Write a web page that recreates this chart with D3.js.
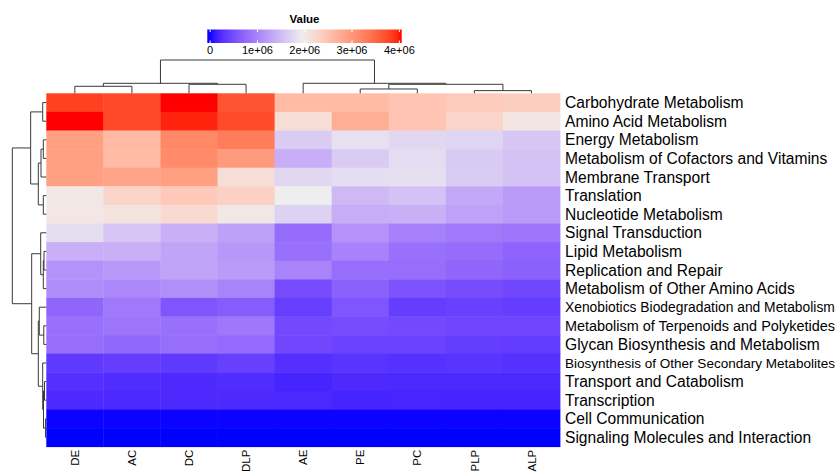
<!DOCTYPE html>
<html><head><meta charset="utf-8">
<script src="https://cdn.jsdelivr.net/npm/d3@7/dist/d3.min.js"></script>
<style>
body{margin:0;background:#fff}
svg{display:block}
text{font-family:"Liberation Sans", Arial, Helvetica, sans-serif;fill:#000}
</style>
</head><body>
<svg id="chart" width="840" height="473"></svg>
<script>
// ---------- data ----------
const columns = ["DE","AC","DC","DLP","AE","PE","PC","PLP","ALP"];
const pathways = [
  "Carbohydrate Metabolism","Amino Acid Metabolism","Energy Metabolism",
  "Metabolism of Cofactors and Vitamins","Membrane Transport","Translation",
  "Nucleotide Metabolism","Signal Transduction","Lipid Metabolism",
  "Replication and Repair","Metabolism of Other Amino Acids",
  "Xenobiotics Biodegradation and Metabolism","Metabolism of Terpenoids and Polyketides",
  "Glycan Biosynthesis and Metabolism","Biosynthesis of Other Secondary Metabolites",
  "Transport and Catabolism","Transcription","Cell Communication",
  "Signaling Molecules and Interaction"
];
// values per pathway, in column order DE, AC, DC, DLP, AE, PE, PC, PLP, ALP
const values = [
  [3.82e6,3.76e6,4.05e6,3.67e6,2.58e6,2.58e6,2.47e6,2.39e6,2.35e6],
  [4.05e6,3.76e6,3.97e6,3.74e6,2.16e6,2.73e6,2.47e6,2.27e6,2.06e6],
  [2.90e6,2.60e6,3.17e6,3.29e6,1.64e6,1.83e6,1.75e6,1.72e6,1.60e6],
  [2.90e6,2.58e6,3.13e6,2.96e6,1.38e6,1.64e6,1.79e6,1.63e6,1.56e6],
  [2.90e6,2.85e6,2.90e6,2.16e6,1.75e6,1.81e6,1.82e6,1.64e6,1.56e6],
  [2.03e6,2.27e6,2.41e6,2.31e6,1.95e6,1.48e6,1.56e6,1.33e6,1.21e6],
  [2.04e6,2.10e6,2.20e6,2.02e6,1.70e6,1.37e6,1.40e6,1.27e6,1.21e6],
  [1.81e6,1.58e6,1.40e6,1.25e6,0.78e6,1.13e6,0.96e6,0.90e6,0.86e6],
  [1.40e6,1.39e6,1.29e6,1.17e6,0.82e6,0.98e6,0.82e6,0.78e6,0.70e6],
  [1.13e6,1.19e6,1.29e6,1.21e6,0.99e6,0.80e6,0.80e6,0.72e6,0.68e6],
  [1.09e6,1.03e6,1.10e6,0.99e6,0.49e6,0.68e6,0.55e6,0.49e6,0.45e6],
  [0.72e6,0.90e6,0.57e6,0.64e6,0.37e6,0.57e6,0.36e6,0.39e6,0.36e6],
  [0.82e6,0.86e6,0.82e6,0.88e6,0.47e6,0.49e6,0.47e6,0.43e6,0.43e6],
  [0.80e6,0.74e6,0.80e6,0.76e6,0.45e6,0.41e6,0.41e6,0.36e6,0.35e6],
  [0.33e6,0.36e6,0.33e6,0.38e6,0.25e6,0.28e6,0.26e6,0.28e6,0.26e6],
  [0.25e6,0.23e6,0.21e6,0.23e6,0.17e6,0.21e6,0.20e6,0.20e6,0.20e6],
  [0.21e6,0.20e6,0.21e6,0.21e6,0.20e6,0.17e6,0.18e6,0.17e6,0.17e6],
  [0.01e6,0.01e6,0.01e6,0.01e6,0.01e6,0.01e6,0.01e6,0.01e6,0.01e6],
  [0.00e6,0.00e6,0.00e6,0.00e6,0.00e6,0.00e6,0.00e6,0.00e6,0.00e6]
];
const colorStops = [0, 1.95e6, 4.05e6];
const colorRange = ["#0000FF", "#EEEEEE", "#FF0000"];
const legendTicks = [0, 1e6, 2e6, 3e6, 4e6];
const legendLabels = ["0", "1e+06", "2e+06", "3e+06", "4e+06"];
const legendDomain = [-0.06e6, 4.05e6];
// clustering trees (merge heights, relative to root = 1)
const colTree = {h:1, c:[
  {h:0.30, c:[{h:0.21, c:["DE","AC"]}, {h:0.27, c:["DC","DLP"]}]},
  {h:0.30, c:["AE", {h:0.27, c:[{h:0.13, c:["PE","PC"]}, {h:0.08, c:["PLP","ALP"]}]}]}
]};
const P = pathways;
const rowTree = {h:1, c:[
  {h:0.46, c:[
    {h:0.106, c:[P[0], P[1]]},
    {h:0.235, c:[
      {h:0.156, c:[{h:0.088, c:[P[2], P[3]]}, P[4]]},
      {h:0.088, c:[P[5], P[6]]}
    ]}
  ]},
  {h:0.43, c:[
    {h:0.165, c:[P[7], {h:0.088, c:[{h:0.068, c:[P[8], P[9]]}, P[10]]}]},
    {h:0.235, c:[
      {h:0.206, c:[P[11], {h:0.074, c:[P[12], P[13]]}]},
      {h:0.106, c:[P[14], {h:0.082, c:[{h:0.053, c:[P[15], P[16]]}, {h:0.024, c:[P[17], P[18]]}]}]}
    ]}
  ]}
]};

// ---------- layout ----------
const W = 840;
const svg = d3.select("#chart");
const hm = {x0:46.3, x1:560, y0:93.3, y1:446.7};

const x = d3.scaleBand().domain(columns).range([hm.x0, hm.x1]);
const y = d3.scaleBand().domain(pathways).range([hm.y0, hm.y1]);
const color = d3.scaleLinear().domain(colorStops).range(colorRange)
  .interpolate(d3.interpolateLab).clamp(true);

// heatmap cells
const cells = [];
pathways.forEach((p, i) => columns.forEach((c, j) => cells.push({p, c, v: values[i][j]})));
svg.append("g").selectAll("rect").data(cells).join("rect")
  .attr("x", d => x(d.c)).attr("y", d => y(d.p))
  .attr("width", x.bandwidth() + 0.4).attr("height", y.bandwidth() + 0.4)
  .attr("fill", d => color(d.v));

// row labels (long ones get a smaller font so that they fit the page width)
const labelX = hm.x1 + 5;
const maxLabelW = W - labelX - 5;
const baseFont = 15.6;
svg.append("g").selectAll("text").data(pathways).join("text")
  .attr("x", labelX).attr("y", d => y(d) + y.bandwidth() / 2)
  .attr("dy", "0.36em").style("font-size", baseFont + "px").text(d => d)
  .each(function() {
    const w = this.getComputedTextLength();
    if (w > maxLabelW) {
      d3.select(this).style("font-size", (baseFont * maxLabelW / w).toFixed(2) + "px");
    }
  });

// column labels
svg.append("g").selectAll("text").data(columns).join("text")
  .attr("transform", d => `translate(${x(d) + x.bandwidth() / 2},${hm.y1 + 3}) rotate(-90)`)
  .attr("text-anchor", "end").attr("dy", "0.36em")
  .style("font-size", "11.5px").text(d => d);

// dendrograms
function drawTree(tree, leafPos, hScale, horizontal) {
  const root = d3.hierarchy(tree, d => (typeof d === "string") ? null : d.c);
  root.eachAfter(n => {
    if (!n.children) { n.pos = leafPos(n.data); n.hh = 0; }
    else { n.pos = d3.mean(n.children, k => k.pos); n.hh = n.data.h; }
  });
  const paths = [];
  root.each(n => {
    if (!n.children) return;
    const [a, b] = n.children;
    const H = hScale(n.hh);
    if (horizontal) {
      paths.push(`M${hScale(a.hh)},${a.pos}H${H}V${b.pos}H${hScale(b.hh)}`);
    } else {
      paths.push(`M${a.pos},${hScale(a.hh)}V${H}H${b.pos}V${hScale(b.hh)}`);
    }
  });
  svg.append("g").selectAll("path").data(paths).join("path")
    .attr("d", d => d).attr("fill", "none").attr("stroke", "#3a3a3a").attr("stroke-width", 1);
}
drawTree(colTree, d => x(d) + x.bandwidth() / 2,
  d3.scaleLinear().domain([0, 1]).range([hm.y0, 60]), false);
drawTree(rowTree, d => y(d) + y.bandwidth() / 2,
  d3.scaleLinear().domain([0, 1]).range([hm.x0, 12.3]), true);

// legend
const lg = {x0:207.3, x1:401.7, y0:29.5, y1:43};
const lx = d3.scaleLinear().domain(legendDomain).range([lg.x0, lg.x1]);
const defs = svg.append("defs");
const grad = defs.append("linearGradient").attr("id", "lgGrad")
  .attr("x1", "0%").attr("x2", "100%").attr("y1", "0%").attr("y2", "0%");
d3.range(0, 1.0001, 0.02).forEach(t => {
  const v = legendDomain[0] + t * (legendDomain[1] - legendDomain[0]);
  grad.append("stop").attr("offset", (t * 100) + "%").attr("stop-color", color(v));
});
svg.append("rect").attr("x", lg.x0).attr("y", lg.y0)
  .attr("width", lg.x1 - lg.x0).attr("height", lg.y1 - lg.y0).attr("fill", "url(#lgGrad)");
const tg = svg.append("g");
tg.selectAll("line.t").data(legendTicks).join("line").attr("class", "t")
  .attr("x1", d => lx(d)).attr("x2", d => lx(d)).attr("y1", lg.y0).attr("y2", lg.y0 + 2.5)
  .attr("stroke", "#fff").attr("stroke-width", 1);
tg.selectAll("line.b").data(legendTicks).join("line").attr("class", "b")
  .attr("x1", d => lx(d)).attr("x2", d => lx(d)).attr("y1", lg.y1 - 2.5).attr("y2", lg.y1)
  .attr("stroke", "#fff").attr("stroke-width", 1);
tg.selectAll("text").data(legendTicks).join("text")
  .attr("x", d => lx(d)).attr("y", 53.5).attr("text-anchor", "middle")
  .style("font-size", "11px").text((d, i) => legendLabels[i]);
svg.append("text").attr("x", (lg.x0 + lg.x1) / 2).attr("y", 23.3)
  .attr("text-anchor", "middle").style("font-size", "11.5px").style("font-weight", "bold")
  .text("Value");
</script>
</body></html>
